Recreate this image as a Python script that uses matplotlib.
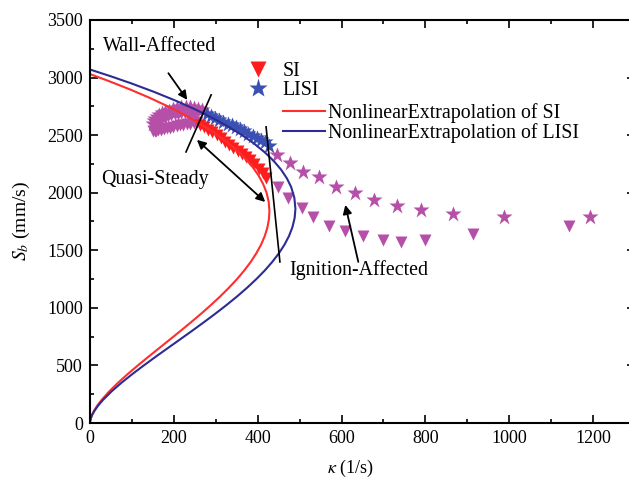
import matplotlib
matplotlib.use('Agg')
import matplotlib.pyplot as plt
from matplotlib.lines import Line2D
from matplotlib.ticker import MultipleLocator

plt.rcParams['font.family'] = 'serif'
plt.rcParams['font.serif'] = ['Liberation Serif', 'DejaVu Serif']
plt.rcParams['mathtext.fontset'] = 'stix'

# ---- SI (triangles) ----
si_wall_k = [255, 247, 239, 231, 223, 215, 207, 199, 191, 183, 176, 169, 163, 158, 154, 151,
             155, 162, 170, 178, 186, 194, 202, 210, 218, 226, 234, 242, 250]
si_wall_s = [2610, 2606, 2601, 2596, 2590, 2584, 2578, 2572, 2566, 2560, 2554, 2548, 2543, 2540, 2538, 2536,
             2590, 2615, 2635, 2650, 2662, 2672, 2680, 2685, 2688, 2688, 2686, 2682, 2676]
si_qs_k = [262, 272, 282, 292, 302, 312, 322, 332, 342, 352, 362, 372, 382, 392, 402, 412, 420]
si_qs_s = [2590, 2567, 2545, 2523, 2499, 2471, 2443, 2416, 2389, 2362, 2335, 2308, 2281, 2251, 2210, 2168, 2130]
si_ign_k = [449, 472, 505, 533, 569, 609, 652, 699, 742, 800, 914, 1143]
si_ign_s = [2053, 1955, 1865, 1792, 1711, 1665, 1625, 1590, 1573, 1590, 1642, 1711]

# ---- LISI (stars) ----
lisi_wall_k = [268, 258, 248, 238, 228, 218, 208, 198, 188, 179, 171, 164, 159, 155, 152, 150]
lisi_wall_s = [2715, 2728, 2737, 2742, 2744, 2742, 2736, 2727, 2714, 2700, 2688, 2676, 2660, 2640, 2620, 2600]
lisi_qs_k = [278, 288, 298, 308, 318, 328, 338, 348, 358, 368, 378, 388, 398, 408, 418, 428]
lisi_qs_s = [2686, 2669, 2652, 2635, 2618, 2601, 2584, 2567, 2550, 2532, 2513, 2494, 2475, 2456, 2437, 2410]
lisi_ign_k = [446, 477, 509, 547, 587, 631, 678, 733, 790, 866, 988, 1193]
lisi_ign_s = [2328, 2256, 2183, 2135, 2053, 2000, 1935, 1885, 1846, 1816, 1790, 1790]

# ---- nonlinear extrapolation curves ----
fit_si_s = [3030, 2975, 2900, 2825, 2750, 2675, 2600, 2525, 2450, 2375, 2300, 2225, 2150, 2075, 2000,
            1920, 1840, 1770, 1700, 1625, 1550, 1475, 1400, 1325, 1250, 1175, 1100, 1025, 950, 875,
            800, 725, 650, 575, 500, 425, 350, 275, 200, 150, 100, 70, 40, 15, 0]
fit_si_k = [0, 41.1, 93.5, 141.7, 185.9, 226.0, 262.2, 294.6, 323.2, 348.2, 369.6, 387.5, 402.0, 413.1, 421.2,
            426.3, 428.0, 426.8, 423.3, 417.0, 408.2, 396.9, 383.6, 368.0, 350.7, 331.5, 310.7, 288.6, 265.3, 241.0,
            216.0, 190.5, 164.9, 139.3, 114.2, 89.9, 67.0, 46.0, 27.6, 17.1, 8.6, 4.7, 1.8, 0.3, 0]
fit_lisi_s = [3070, 3010, 2950, 2875, 2800, 2725, 2650, 2575, 2500, 2425, 2350, 2275, 2200, 2125, 2050,
              1955, 1860, 1780, 1700, 1625, 1550, 1475, 1400, 1325, 1250, 1175, 1100, 1025, 950, 875,
              800, 725, 650, 575, 500, 425, 350, 275, 200, 150, 100, 70, 40, 15, 0]
fit_lisi_k = [0, 50.5, 98.2, 153.3, 203.9, 250.2, 292.0, 329.5, 362.8, 392.0, 417.2, 438.4, 455.9, 469.6, 479.8,
              487.5, 490.0, 488.1, 482.8, 474.8, 464.1, 450.8, 435.0, 417.0, 396.8, 374.8, 351.1, 325.8, 299.2, 271.6,
              243.3, 214.4, 185.4, 156.5, 128.3, 101.0, 75.2, 51.6, 30.9, 19.2, 9.7, 5.2, 2.0, 0.3, 0]

magenta = '#b64fa8'
red_m = '#ff1c1c'
blue_m = '#3b50b4'
red_l = '#ff2e2e'
blue_l = '#2c2c92'

fig = plt.figure(figsize=(6.29, 4.78), dpi=100)
ax = fig.add_axes([90/629, 55/478, 545/629, 403/478])

ms_t = 9
ms_s = 12
ax.plot(si_wall_k, si_wall_s, 'v', color=magenta, ms=ms_t, mec='none')
ax.plot(lisi_wall_k, lisi_wall_s, '*', color=magenta, ms=ms_s, mec='none')
ax.plot(si_qs_k, si_qs_s, 'v', color=red_m, ms=ms_t, mec='none')
ax.plot(lisi_qs_k, lisi_qs_s, '*', color=blue_m, ms=ms_s, mec='none')
ax.plot(si_ign_k, si_ign_s, 'v', color=magenta, ms=ms_t, mec='none')
ax.plot(lisi_ign_k, lisi_ign_s, '*', color=magenta, ms=ms_s, mec='none')

ax.plot(fit_si_k, fit_si_s, color=red_l, lw=1.5)
ax.plot(fit_lisi_k, fit_lisi_s, color=blue_l, lw=1.5)

# region dividers and arrows
ax.plot([229, 289], [2354, 2850], color='k', lw=1.2)
ax.plot([420, 453], [2572, 1399], color='k', lw=1.2)
ap = dict(arrowstyle='-|>', color='k', lw=1.3, mutation_scale=13, shrinkA=0, shrinkB=0)
ax.annotate('', xy=(232, 2806), xytext=(187, 3038), arrowprops=ap)
ax.annotate('', xy=(609, 1894), xytext=(640, 1399), arrowprops=ap)
ap2 = dict(ap, arrowstyle='<|-|>')
ax.annotate('', xy=(418, 1920), xytext=(255, 2459), arrowprops=ap2)

fs = 14.3
ax.text(167, 3267, 'Wall-Affected', fontsize=fs, ha='center', va='center')
ax.text(155, 2111, 'Quasi-Steady', fontsize=fs, ha='center', va='center')
ax.text(640, 1329, 'Ignition-Affected', fontsize=fs, ha='center', va='center')

ax.set_xlim(0, 1300)
ax.set_ylim(0, 3500)
ax.xaxis.set_major_locator(MultipleLocator(200))
ax.xaxis.set_minor_locator(MultipleLocator(100))
ax.yaxis.set_major_locator(MultipleLocator(500))
ax.yaxis.set_minor_locator(MultipleLocator(250))
ax.tick_params(which='both', direction='in', top=True, right=True, labelsize=13, width=1.2)
ax.tick_params(which='major', length=6, pad=5)
ax.tick_params(which='minor', length=3)
for sp in ax.spines.values():
    sp.set_linewidth(1.5)

ax.set_xlabel(r'$\kappa$ (1/s)', fontsize=13)
ax.set_ylabel(r'$S_b$ (mm/s)', fontsize=14)
ax.xaxis.set_label_coords(0.477, -0.112)
ax.xaxis.label.set_verticalalignment('center')
ax.yaxis.set_label_coords(-0.125, 0.5)
ax.yaxis.label.set_verticalalignment('center')

h1 = [Line2D([], [], ls='none', marker='v', color=red_m, ms=11, mec='none'),
      Line2D([], [], ls='none', marker='*', color=blue_m, ms=14, mec='none')]
leg1 = ax.legend(h1, ['SI', 'LISI'], loc='upper left', bbox_to_anchor=(248/629, 1 - 62/478),
                 bbox_transform=fig.transFigure, frameon=False, fontsize=fs, borderpad=0,
                 borderaxespad=0, handlelength=1.0, handletextpad=0.75, labelspacing=0.0)
ax.add_artist(leg1)
h2 = [Line2D([], [], color=red_l, lw=1.5), Line2D([], [], color=blue_l, lw=1.5)]
ax.legend(h2, ['NonlinearExtrapolation of SI', 'NonlinearExtrapolation of LISI'], loc='upper left',
          bbox_to_anchor=(283/629, 1 - 103/478), bbox_transform=fig.transFigure, frameon=False,
          fontsize=fs, borderpad=0, borderaxespad=0, handlelength=2.1, handletextpad=0.15,
          labelspacing=0.0)

fig.savefig('out.png', dpi=100)
